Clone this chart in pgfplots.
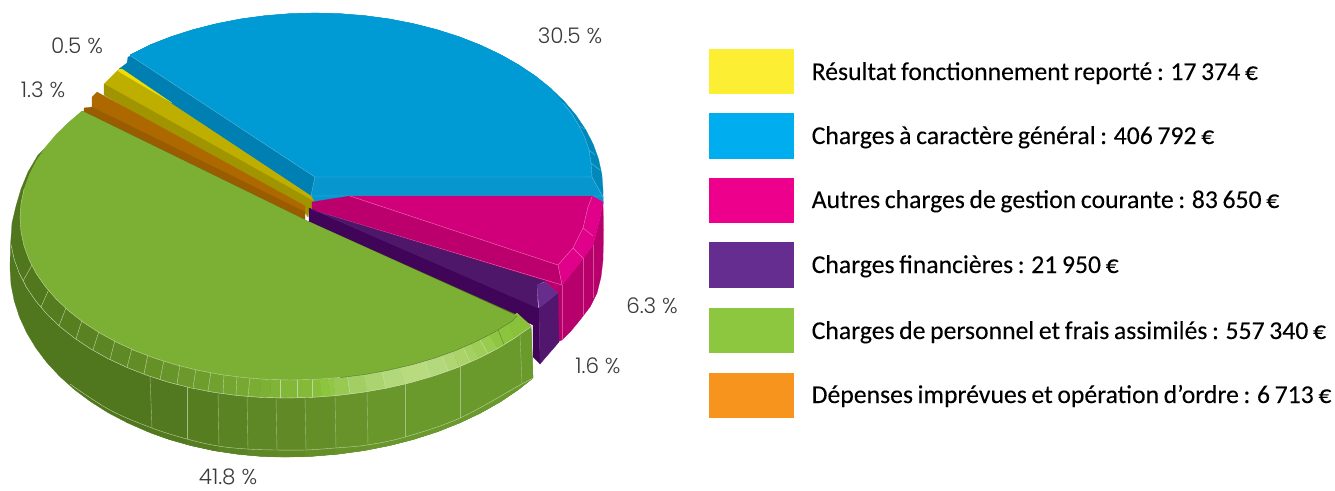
\documentclass[border=0pt]{standalone}
\usepackage{pgfplots}
\pgfplotsset{compat=1.18}
\usepackage{fontspec}
\setmainfont[FakeBold=0.12,WordSpace=0.8]{Carlito}
\newfontfamily\pct[UprightFont=* Light]{Poppins}
\definecolor{pctc}{HTML}{3A3A3A}
\newcommand\Fc[2]{\addplot[fill={rgb,255:#1},draw={rgb,255:#1},line width=.25pt] coordinates {#2} --cycle;}
\newcommand\Ln[2]{\addplot[draw={rgb,255:#1},line width=.4pt] coordinates {#2};}
\newcommand\Ls[2]{\addplot[draw={rgb,255:#1},line width=.4pt,smooth,tension=.6] coordinates {#2};}
\begin{document}
\begin{tikzpicture}
\useasboundingbox (0,0) rectangle (1335pt,490pt);
\begin{axis}[at={(0,0)},anchor=south west,scale only axis,width=1335pt,height=490pt,
 xmin=0,xmax=1335,ymin=0,ymax=490,y dir=reverse,hide axis,clip=false,
 axis on top=false]
% ---- blue
\Fc{red,0;green,136;blue,186}{(130,55)(149.8,45)(171,36.7)(193.3,29.6)(216.5,23.7)(240.5,19)(265,15.7)(289.9,13.7)(315,13)(340.1,13.7)(365,15.7)(389.5,19)(413.5,23.7)(436.7,29.6)(459,36.7)(480.2,45)(500.1,54.4)(518.6,64.8)(535.6,76.2)(550.9,88.5)(564.4,101.5)(576,115.2)(585.6,129.5)(593.2,144.2)(598.6,159.3)(601.9,174.6)(603,190)(603,204)(590,204)(590,198)(311,196)}
\Fc{red,0;green,155;blue,213}{(130,55)(149.8,45)(171,36.7)(193.3,29.6)(216.5,23.7)(240.5,19)(265,15.7)(289.9,13.7)(315,13)(340.1,13.7)(365,15.7)(389.5,19)(413.5,23.7)(436.7,29.6)(459,36.7)(480.2,45)(500.1,54.4)(518.6,64.8)(535.6,76.2)(550.9,88.5)(563,103)(572,114)(579,126)(585,138)(589,150)(591,163)(592,177)(315,177)}
\Fc{red,8;green,150;blue,206}{(315,177)(592,177)(603,197)(603,204)(590,200)(350,200)(312,204)(311,196)}
\Fc{red,0;green,128;blue,178}{(127,63)(128,57)(131,56)(315,177)(311,196)(119,69)}
\Ln{red,90;green,190;blue,225}{(131,56)(315,177)(592,177)(603,197)}
\Ln{red,90;green,190;blue,225}{(315,177)(311,196)(603,196)}
\Ln{red,90;green,190;blue,225}{(563,103)(572,114)(579,126)(585,138)(589,150)(591,163)(592,177)}
\Ln{red,90;green,190;blue,225}{(579,126)(585,129)}
\Ln{red,90;green,190;blue,225}{(589,150)(595,155)}
\Ln{red,90;green,190;blue,225}{(591,163)(600,170)}
% ---- yellow
\Fc{red,189;green,174;blue,0}{(119,69)(311,196)(315,203)(306,206)(104,84)}
\Fc{red,240;green,222;blue,0}{(119,69)(122,69)(172,103)(118,71)}
\Fc{red,160;green,148;blue,0}{(104,84)(315,202)(312,208)(309,211)(308,217)(305,213)(104,95)}
% ---- orange
\Fc{red,173;green,104;blue,0}{(92,97)(97,92)(305,206)(305,213)(92,107)}
\Fc{red,153;green,92;blue,0}{(84,108)(92,107)(305,212)(305,221)(84,112)}
% ---- magenta
\Fc{red,184;green,0;blue,109}{(603,202)(603.5,230)(603,260)(601,277)(597,293)(590,307)(580,320)(571,331)(562,340)(557,342)(557,292)(562,285)(582,260)(593,245)(600,218)}
\Fc{red,187;green,0;blue,110}{(312,202)(350,196)(558,265)(562,285)(558,293)(545,282)(312,210)}
\Fc{red,209;green,0;blue,122}{(350,196)(592,196)(588,207)(583,228)(573,248)(558,265)}
\Fc{red,224;green,0;blue,138}{(592,196)(603,202)(600,218)(593,245)(582,260)(562,285)(558,265)(573,248)(583,228)(588,207)}
\Ln{red,235;green,110;blue,180}{(350,196)(558,265)(562,285)}
\Ln{red,235;green,110;blue,180}{(592,197)(588,207)(583,228)(573,248)(558,265)}
\Ln{red,235;green,110;blue,180}{(312,210)(562,285)}
\Ln{red,235;green,110;blue,180}{(583,228)(593,236)}
\Ln{red,235;green,110;blue,180}{(573,248)(583,258)}
\Ln{red,210;green,80;blue,150}{(562,285)(562,340)}
\Ln{red,210;green,80;blue,150}{(583,258)(583,315)}
\Ln{red,210;green,80;blue,150}{(593,245)(593,298)}
% ---- purple
\Fc{red,64;green,5;blue,89}{(309,208)(309,222)(533,325)(533,357)(540,364)(539,308)}
\Fc{red,83;green,22;blue,111}{(539,308)(558,293)(559,342)(540,364)}
\Fc{red,79;green,23;blue,105}{(309,208)(312,210)(545,281)(537,285)(538,308)}
\Fc{red,102;green,45;blue,140}{(537,285)(545,282)(558,293)(539,308)}
% ---- green: silhouette, wall facets
\Fc{red,80;green,118;blue,30}{(82,111)(38,155)(28,172)(21,189)(16,206)(12,223)(10.5,245)(10,268)(11,284.5)(14.2,300.8)(19.4,316.9)(26.6,332.6)(35.8,347.9)(46.8,362.5)(59.7,376.4)(74.3,389.5)(90.5,401.6)(108.2,412.8)(127.3,422.8)(147.5,431.7)(168.8,439.3)(190.9,445.6)(213.8,450.6)(237.2,454.1)(261,456.3)(285,457)(311.6,456.3)(338,454.1)(363.9,450.6)(389.3,445.6)(413.9,439.3)(437.5,431.7)(459.9,422.8)(481,412.8)(500.7,401.6)(518.6,389.5)(533,378)(531,326)(517,315)(305,220)}
\Fc{red,82;green,121;blue,31}{(150,376.4)(168.8,382.3)(187,387)(187,444.5)(168.8,439.3)(150,432.6)}
\Fc{red,86;green,126;blue,33}{(187,387)(190.9,387.9)(213.8,392.3)(218,393)(218,451.3)(213.8,450.6)(190.9,445.6)(187,444.5)}
\Fc{red,90;green,131;blue,35}{(218,393)(237.2,395.5)(247,396.3)(247,455.1)(237.2,454.1)(218,451.3)}
\Fc{red,94;green,135;blue,37}{(247,396.3)(261,397.4)(276,397.9)(276,456.9)(261,456.3)(247,455.1)}
\Fc{red,97;green,138;blue,38}{(276,397.9)(285,398)(305,397.8)(305,456.7)(285,457)(276,456.9)}
\Fc{red,100;green,143;blue,40}{(305,397.8)(311.1,397.4)(335,395.7)(335,454.4)(311.6,456.3)(305,456.7)}
\Fc{red,103;green,147;blue,42}{(335,395.7)(337.1,395.5)(362.6,392.3)(367,391.6)(367,450)(363.9,450.6)(338,454.1)(335,454.4)}
\Fc{red,106;green,151;blue,43}{(367,391.6)(387.6,387.9)(405,384)(405,441.7)(389.3,445.6)(367,450)}
\Fc{red,107;green,154;blue,44}{(405,384)(411.8,382.3)(435,375.5)(457.1,367.6)(477.8,358.7)(497.1,348.8)(514.8,338)(531,326.6)(533,378)(518.6,389.5)(500.7,401.6)(481,412.8)(459.9,422.8)(437.5,431.7)(413.9,439.3)(405,441.7)}
\Ln{red,165;green,190;blue,130}{(150,376.4)(152,428)}
\Ln{red,165;green,190;blue,130}{(187,387)(187,439)}
\Ln{red,165;green,190;blue,130}{(218,393)(219,446)}
\Ln{red,165;green,190;blue,130}{(247,396.3)(248,449)}
\Ln{red,165;green,190;blue,130}{(276,397.9)(277,450)}
\Ln{red,165;green,190;blue,130}{(305,397.8)(306,450)}
\Ln{red,165;green,190;blue,130}{(335,395.7)(336,448)}
\Ln{red,165;green,190;blue,130}{(367,391.6)(368,445)}
\Ln{red,165;green,190;blue,130}{(405,384)(405,437)}
\Ln{red,165;green,190;blue,130}{(460,366.5)(460,418)}
\Ln{red,165;green,190;blue,130}{(520,335)(522,384)}
\Ls{red,190;green,210;blue,160}{(70,384)(110,410)(152,428)(187,439)(218,446)(247,449)(276,450)(305,450)(335,448)(367,445)(405,437)(460,418)(520,385)(533,378)}
% ---- green bevel facets
\Fc{red,82;green,120;blue,30}{(32,265)(23,281)(41,307)(49,289)}
\Fc{red,85;green,124;blue,31}{(49,289)(41,307)(59,325.7)(66,308)}
\Fc{red,87;green,127;blue,32}{(66,308)(59,325.7)(76,339)(82,320)}
\Fc{red,90;green,130;blue,34}{(82,320)(76,339)(93,350)(99,331)}
\Fc{red,92;green,133;blue,35}{(99,331)(93,350)(110,359.6)(115,340)}
\Fc{red,95;green,137;blue,36}{(115,340)(110,359.6)(127,367.4)(132,348)}
\Fc{red,98;green,141;blue,38}{(132,348)(127,367.4)(144,374)(148,354)}
\Fc{red,101;green,145;blue,39}{(148,354)(144,374)(160,379.6)(164,360)}
\Fc{red,104;green,149;blue,41}{(164,360)(160,379.6)(177,384.5)(180,364)}
\Fc{red,107;green,153;blue,43}{(180,364)(177,384.5)(193,388)(196,368)}
\Fc{red,110;green,157;blue,45}{(196,368)(193,388)(208,391.3)(211,371)}
\Fc{red,113;green,161;blue,47}{(211,371)(208,391.3)(223,393.7)(224,374)}
\Fc{red,116;green,165;blue,49}{(224,374)(223,393.7)(236,395.3)(237,375)}
\Fc{red,119;green,169;blue,50}{(237,375)(236,395.3)(248,396.5)(250,376)}
\Fc{red,122;green,173;blue,51}{(250,376)(248,396.5)(260,397.3)(261,377)}
\Fc{red,125;green,177;blue,52}{(261,377)(260,397.3)(270,397.8)(271,377)}
\Fc{red,128;green,180;blue,54}{(271,377)(270,397.8)(280,398)(280,377)}
\Fc{red,130;green,183;blue,55}{(280,377)(280,398)(297,397.9)(297,377)}
\Fc{red,133;green,186;blue,56}{(297,377)(297,397.9)(312,397.3)(312,377)}
\Fc{red,136;green,190;blue,58}{(312,377)(312,397.3)(322,396.7)(319,376)}
\Fc{red,140;green,197;blue,62}{(319,376)(322,396.7)(330,396)(327,376)}
\Fc{red,145;green,198;blue,70}{(327,376)(330,396)(335,395.7)(333,375)}
\Fc{red,153;green,201;blue,82}{(333,375)(335,395.7)(350,394)(347,373)}
\Fc{red,163;green,206;blue,100}{(347,373)(350,394)(367,391.6)(363,371)}
\Fc{red,171;green,212;blue,112}{(363,371)(367,391.6)(386,388.2)(381,368)}
\Fc{red,177;green,216;blue,122}{(381,368)(386,388.2)(405,384)(398,364)}
\Fc{red,184;green,219;blue,128}{(398,364)(405,384)(430,377)(424,358)}
\Fc{red,180;green,217;blue,124}{(424,358)(430,377)(448,371)(441,353)}
\Fc{red,175;green,214;blue,114}{(441,353)(448,371)(459,367)(452,349)}
\Fc{red,170;green,211;blue,106}{(452,349)(459,367)(470,362)(462,345)}
\Fc{red,165;green,208;blue,98}{(462,345)(470,362)(479,358)(470,342)}
\Fc{red,158;green,205;blue,88}{(470,342)(479,358)(488,353.7)(478,336)}
\Fc{red,152;green,203;blue,78}{(478,336)(488,353.7)(498,348.3)(488,333)}
\Fc{red,142;green,198;blue,63}{(488,333)(498,348.3)(504,344.8)(497,327)}
\Fc{red,139;green,196;blue,61}{(497,327)(504,344.8)(515,337.9)(508,320)}
\Fc{red,137;green,193;blue,59}{(508,320)(515,337.9)(531,326)(517,313)}
% facet seams
\Ln{red,190;green,215;blue,160}{(32,265)(23,281)}
\Ln{red,190;green,215;blue,160}{(49,289)(41,307)}
\Ln{red,190;green,215;blue,160}{(66,308)(59,325.7)}
\Ln{red,190;green,215;blue,160}{(82,320)(76,339)}
\Ln{red,190;green,215;blue,160}{(99,331)(93,350)}
\Ln{red,190;green,215;blue,160}{(115,340)(110,359.6)}
\Ln{red,190;green,215;blue,160}{(132,348)(127,367.4)}
\Ln{red,190;green,215;blue,160}{(148,354)(144,374)}
\Ln{red,190;green,215;blue,160}{(164,360)(160,379.6)}
\Ln{red,190;green,215;blue,160}{(180,364)(177,384.5)}
\Ln{red,190;green,215;blue,160}{(196,368)(193,388)}
\Ln{red,190;green,215;blue,160}{(211,371)(208,391.3)}
\Ln{red,190;green,215;blue,160}{(224,374)(223,393.7)}
\Ln{red,190;green,215;blue,160}{(237,375)(236,395.3)}
\Ln{red,190;green,215;blue,160}{(250,376)(248,396.5)}
\Ln{red,190;green,215;blue,160}{(280,377)(280,398)}
\Ln{red,190;green,215;blue,160}{(297,377)(297,397.9)}
\Ln{red,190;green,215;blue,160}{(312,377)(312,397.3)}
\Ln{red,205;green,228;blue,170}{(347,373)(350,394)}
\Ln{red,205;green,228;blue,170}{(381,368)(386,388.2)}
\Ln{red,205;green,228;blue,170}{(424,358)(430,377)}
\Ln{red,205;green,228;blue,170}{(441,353)(448,371)}
\Ln{red,205;green,228;blue,170}{(462,345)(470,362)}
\Ln{red,205;green,228;blue,170}{(478,336)(488,353.7)}
\Ln{red,100;green,130;blue,60}{(497,327)(504,344.8)}
\Ln{red,210;green,225;blue,190}{(11,244.6)(14.2,259.2)(19.4,273.5)(26.6,287.5)(35.8,301)(46.8,314)(59.7,326.4)(74.3,338)(90.5,348.8)(108.2,358.7)(127.3,367.6)(147.5,375.5)(168.8,382.3)(190.9,387.9)(213.8,392.3)(237.2,395.5)(261,397.4)(285,398)(311.1,397.4)(337.1,395.5)(362.6,392.3)(387.6,387.9)(411.8,382.3)(435,375.5)(457.1,367.6)(477.8,358.7)(497.1,348.8)(514.8,338)(531,326.6)}
% ---- green top face
\Fc{red,124;green,176;blue,52}{(82,111)(68.8,122.2)(56.2,134.4)(45.3,147.4)(36.2,160.9)(29.2,174.8)(24.1,189)(21.1,203.4)(20,218)(21.1,232.1)(24.1,246.1)(29.2,259.9)(36.2,273.4)(45.3,286.5)(56.2,299)(68.8,310.9)(83.2,322.1)(99.1,332.6)(116.4,342.1)(135.1,350.7)(155,358.3)(175.9,364.8)(197.7,370.2)(220.1,374.5)(243.1,377.5)(266.5,379.4)(290,380)(315.3,379.4)(340.4,377.5)(365.1,374.4)(389.2,370)(412.6,364.5)(435,357.9)(456.3,350.2)(476.4,341.4)(495.1,331.7)(512.2,321.1)(517,316)(305,220)}
\Ln{red,190;green,210;blue,155}{(24.1,189)(21.1,203.4)(20,218)(21.1,232.1)(24.1,246.1)(29.2,259.9)(36.2,273.4)(45.3,286.5)(56.2,299)(68.8,310.9)(83.2,322.1)(99.1,332.6)(116.4,342.1)(135.1,350.7)(155,358.3)(175.9,364.8)(197.7,370.2)(220.1,374.5)(243.1,377.5)(266.5,379.4)(290,380)(315.3,379.4)(340.4,377.5)}
\Ln{red,95;green,125;blue,60}{(340.4,377.5)(365.1,374.4)(389.2,370)(412.6,364.5)(435,357.9)(456.3,350.2)(476.4,341.4)(495.1,331.7)(512.2,321.1)(517,316)}
% ---- legend swatches
\Fc{red,252;green,238;blue,50}{(709,49)(793,49)(793,93)(709,93)}
\Fc{red,0;green,174;blue,239}{(709,113)(793,113)(793,158)(709,158)}
\Fc{red,236;green,0;blue,140}{(709,178)(793,178)(793,222)(709,222)}
\Fc{red,102;green,45;blue,145}{(709,242)(793,242)(793,287)(709,287)}
\Fc{red,141;green,198;blue,63}{(709,308)(793,308)(793,352)(709,352)}
\Fc{red,247;green,148;blue,30}{(709,373)(793,373)(793,417)(709,417)}
% ---- legend text
\newcommand\Leg[2]{\node[anchor=base west,inner sep=0pt,font=\fontsize{25.7}{28}\selectfont,text=black] at (axis cs:811.5,#1) {#2};}
\Leg{80}{Résultat fonctionnement reporté : 17 374 €}
\Leg{144}{Charges à caractère général : 406 792 €}
\Leg{208}{Autres charges de gestion courante : 83 650 €}
\Leg{273}{Charges financières : 21 950 €}
\Leg{339}{Charges de personnel et frais assimilés : 557 340 €}
\Leg{403}{Dépenses imprévues et opération d’ordre : 6 713 €}
% ---- percent labels
\newcommand\Pc[3]{\node[anchor=center,inner sep=0pt,font=\pct\fontsize{21.5}{24}\selectfont,text=pctc] at (axis cs:#1,#2) {#3};}
\Pc{77}{46}{0.5 \%}
\Pc{43}{90}{1.3 \%}
\Pc{570}{36}{30.5 \%}
\Pc{652}{306}{6.3 \%}
\Pc{598}{366}{1.6 \%}
\Pc{228}{477}{41.8 \%}
\end{axis}
\end{tikzpicture}
\end{document}
